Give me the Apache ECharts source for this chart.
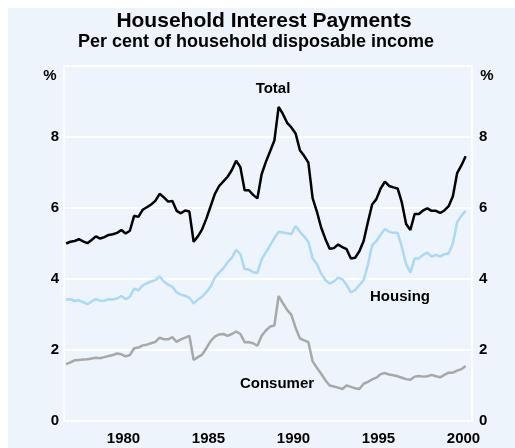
<!DOCTYPE html>
<html>
<head>
<meta charset="utf-8">
<script src="https://cdn.jsdelivr.net/npm/echarts@6/dist/echarts.min.js"></script>
<style>
  html, body { margin: 0; padding: 0; background: #fff; }
  .panel { position: absolute; left: 8px; top: 8px; right: 0; bottom: 0; background: #edf4fb; }
  .chart { position: absolute; left: 0; top: 0; width: 515px; height: 448px; }
</style>
</head>
<body>
<div class="panel"></div>
<div class="chart"></div>
<script>
// quarterly, 1977 Q1 .. 2000 Q3, per cent of household disposable income
const years = []
for (let y = 1977; y <= 2000; y++) years.push(String(y))
const quarters = []
years.forEach(y => { for (let q = 1; q <= 4; q++) quarters.push(y + 'Q' + q) })

const total = [
  5.0, 5.05, 5.07, 5.12,  5.06, 5.01, 5.1, 5.2,  5.14, 5.18, 5.24, 5.26,  5.3, 5.38, 5.28, 5.36,
  5.78, 5.75, 5.95, 6.02,  6.1, 6.2, 6.4, 6.3,  6.18, 6.2, 5.92, 5.85,  5.93, 5.9, 5.05, 5.2,
  5.4, 5.7, 6.05, 6.4,  6.62, 6.75, 6.88, 7.07,  7.33, 7.15, 6.5, 6.5,  6.37, 6.27, 6.95, 7.3,
  7.6, 7.9, 8.85, 8.65,  8.4, 8.27, 8.1, 7.63,  7.47, 7.28, 6.28, 5.9,  5.45, 5.13, 4.85, 4.87,
  4.97, 4.9, 4.84, 4.58,  4.6, 4.78, 5.07, 5.6,  6.1, 6.25, 6.55, 6.74,  6.62, 6.58, 6.55, 6.15,
  5.55, 5.38, 5.83, 5.83,  5.93, 5.99, 5.92, 5.92,  5.86, 5.93, 6.05, 6.33,  6.98, 7.2, 7.46
]
const housing = [
  3.42, 3.43, 3.38, 3.4,  3.35, 3.29, 3.37, 3.43,  3.39, 3.39, 3.43, 3.42,  3.45, 3.52, 3.43, 3.5,
  3.73, 3.68, 3.82, 3.88,  3.93, 3.97, 4.07, 3.93,  3.84, 3.78, 3.62, 3.56,  3.53, 3.47, 3.31, 3.42,
  3.5, 3.63, 3.78, 4.04,  4.18, 4.3, 4.47, 4.6,  4.82, 4.7, 4.28, 4.27,  4.19, 4.17, 4.55, 4.75,
  4.95, 5.15, 5.33, 5.31,  5.29, 5.27, 5.49, 5.33,  5.2, 5.05, 4.58, 4.42,  4.15, 3.97, 3.87, 3.93,
  4.04, 3.99, 3.83, 3.62,  3.69, 3.83, 3.97, 4.4,  4.95, 5.07, 5.25, 5.41,  5.33, 5.3, 5.3, 4.9,
  4.42, 4.18, 4.58, 4.58,  4.68, 4.74, 4.63, 4.68,  4.63, 4.7, 4.72, 5.0,  5.6, 5.78, 5.92
]
const consumer = [
  1.6, 1.65, 1.71, 1.72,  1.73, 1.74, 1.76, 1.78,  1.77, 1.8, 1.83, 1.86,  1.9, 1.88, 1.82, 1.86,
  2.05, 2.07, 2.13, 2.15,  2.19, 2.23, 2.35, 2.3,  2.3, 2.36, 2.23, 2.3,  2.35, 2.4, 1.72, 1.8,
  1.87, 2.05, 2.25, 2.38,  2.44, 2.45, 2.4, 2.45,  2.52, 2.45, 2.22, 2.22,  2.19, 2.12, 2.4, 2.55,
  2.66, 2.69, 3.52, 3.32,  3.13, 2.99, 2.62, 2.33,  2.27, 2.22, 1.68, 1.5,  1.33, 1.15, 1.0, 0.97,
  0.94, 0.9, 1.0, 0.96,  0.92, 0.9, 1.05, 1.1,  1.17, 1.22, 1.32, 1.35,  1.31, 1.29, 1.26, 1.22,
  1.18, 1.16, 1.25, 1.27,  1.25, 1.26, 1.3, 1.26,  1.23, 1.3, 1.36, 1.36,  1.42, 1.46, 1.55
]

const font = '"Liberation Sans", Arial, Helvetica, sans-serif'
const lbl = { color: '#000', fontFamily: font, fontWeight: 'bold', fontSize: 15 }
const white = { color: '#fff', width: 2 }

const yAxisOpt = (pos, margin, grid) => ({
  type: 'value', position: pos, min: 0, max: 10, interval: 2,
  axisLine: { show: true, lineStyle: white },
  axisTick: { show: false },
  splitLine: { show: grid, lineStyle: white },
  axisLabel: Object.assign({ margin: margin, formatter: v => (v === 10 ? '' : v) }, lbl)
})

const txt = (x, y, s, size) => ({
  type: 'text', x: x, y: y, silent: true,
  style: { text: s, fill: '#000', font: 'bold ' + (size || 15) + 'px ' + font, textAlign: 'center', textVerticalAlign: 'middle' }
})

const chart = echarts.init(document.querySelector('.chart'))
chart.setOption({
  animation: false,
  grid: { left: 64, right: 43, top: 66, bottom: 27 },
  xAxis: [
    {
      type: 'category', data: years, boundaryGap: true, position: 'bottom',
      axisLine: { lineStyle: white },
      axisTick: { inside: true, length: 9, interval: 0, lineStyle: white },
      axisLabel: Object.assign({ interval: 0, margin: 10, formatter: v => (Number(v) % 5 === 0 ? v : '') }, lbl),
      splitLine: { show: false }
    },
    { type: 'category', data: quarters, boundaryGap: true, show: false }
  ],
  yAxis: [yAxisOpt('left', 5, true), yAxisOpt('right', 7, false)],
  series: [
    { name: 'Consumer', type: 'line', xAxisIndex: 1, data: consumer, symbol: 'none', lineStyle: { color: '#a8a8a8', width: 2.5 } },
    { name: 'Housing', type: 'line', xAxisIndex: 1, data: housing, symbol: 'none', lineStyle: { color: '#a9d9f6', width: 2.5 } },
    { name: 'Total', type: 'line', xAxisIndex: 1, data: total, symbol: 'none', lineStyle: { color: '#000', width: 2.5 } }
  ],
  graphic: [
    txt(264, 21, 'Household Interest Payments', 21),
    txt(256, 42, 'Per cent of household disposable income', 18),
    txt(50, 76, '%'),
    txt(487, 76, '%'),
    txt(273, 89, 'Total'),
    txt(400, 297, 'Housing'),
    txt(277, 384, 'Consumer')
  ]
})
</script>
</body>
</html>
